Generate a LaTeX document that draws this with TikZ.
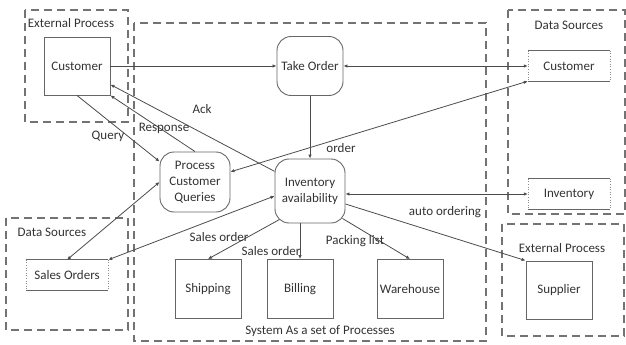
\documentclass[tikz,border=0pt]{standalone}
\usepackage{fontspec}
\setmainfont{Carlito}
\usetikzlibrary{arrows.meta}
\begin{document}
\begin{tikzpicture}[x=1pt,y=-1pt,
  font=\fontsize{13}{16}\selectfont, text=black!80,
  grp/.style={draw=black!55, line width=1.1pt, dash pattern=on 8pt off 5pt},
  proc/.style={draw=black!60, line width=0.9pt, minimum width=66pt, minimum height=58pt, inner sep=1pt, align=center},
  rproc/.style={proc, rounded corners=14pt},
  store/.style={draw=none, minimum width=82pt, minimum height=30pt, inner sep=1pt},
  conn/.style={draw=black!70, line width=0.8pt},
  arr/.style={conn, -{Latex[length=4pt,width=3.5pt]}},
  darr/.style={conn, {Latex[length=4pt,width=3.5pt]}-{Latex[length=4pt,width=3.5pt]}},
  lbl/.style={inner sep=1pt}]
\useasboundingbox (0,0) rectangle (626,345);

% containers
\draw[grp] (25,10) rectangle (128,122);
\draw[grp] (134,23) rectangle (486,341);
\draw[grp] (508,10) rectangle (625,214);
\draw[grp] (6,218) rectangle (128,330);
\draw[grp] (502,224) rectangle (624,336);

\node[lbl] (lext1) at (71,23) {External Process};
\node[lbl] (lds1) at (569,25) {Data Sources};
\node[lbl] (lds2) at (52,232) {Data Sources};
\node[lbl] (lext2) at (562,248) {External Process};
\node[lbl] (lsys) at (320,331) {System As a set of Processes};

% processes
\node[proc] (cust) at (77,66) {Customer};
\node[rproc, minimum height=59pt] (take) at (310,66) {Take Order};
\node[rproc, minimum width=70pt, minimum height=60pt] (pcq) at (195,182) {Process\\Customer\\Queries};
\node[rproc, minimum width=70pt, minimum height=64pt] (inv) at (310,191) {Inventory\\availability};
\node[proc, minimum height=59pt] (ship) at (208,289) {Shipping};
\node[proc, minimum height=59pt] (bill) at (300,289) {Billing};
\node[proc, minimum height=59pt] (ware) at (410,289) {Warehouse};
\node[proc] (sup) at (559,290) {Supplier};

% data stores
\node[store] (dcust) at (569,66) {Customer};
\node[store] (dinv) at (569,194) {Inventory};
\node[store] (sales) at (67,275) {Sales Orders};
\foreach \s in {dcust,dinv,sales}{
  \draw[draw=black!60, line width=1.2pt] (\s.north west) -- (\s.north east);
  \draw[draw=black!60, line width=1.2pt] (\s.south west) -- (\s.south east);
  \draw[draw=black!45, line width=0.6pt, dotted] (\s.north west) -- (\s.south west);
  \draw[draw=black!45, line width=0.6pt, dotted] (\s.north east) -- (\s.south east);
}

% connectors
\draw[arr] (cust.east) -- (take.west);
\draw[darr] (take.east) -- (dcust.west);
\draw[arr] (take.south) -- (inv.north);
\draw[darr] (pcq.16) -- (dcust.south west);
\draw[arr] (cust.south) -- (pcq.150);
\draw[arr] (pcq.north) -- (cust.south east);
\draw[arr] (inv.151) -- (cust.-29);
\draw[darr] (pcq.west) -- (sales.north);
\draw[darr] (inv.188) -- (sales.north east);
\draw[arr] ([shift={(5,-4)}]inv.south west) -- (ship.north);
\draw[arr] (bill.north |- inv.south) -- (bill.north);
\draw[arr] ([shift={(-3,-5)}]inv.south east) -- (ware.north);
\draw[darr] (inv.east |- dinv.west) -- (dinv.west);
\draw[arr] ([yshift=-13pt]inv.east) -- (sup.north west);

% labels
\node[lbl] (lq) at (108,136) {Query};
\node[lbl] (lr) at (164,128) {Response};
\node[lbl] (la) at (202,109) {Ack};
\node[lbl] (lo) at (341,148) {order};
\node[lbl] (ls1) at (219,237) {Sales order};
\node[lbl] (ls2) at (271,251) {Sales order};
\node[lbl] (lp) at (355,241) {Packing list};
\node[lbl] (lao) at (445,212) {auto ordering};
\end{tikzpicture}
\end{document}
